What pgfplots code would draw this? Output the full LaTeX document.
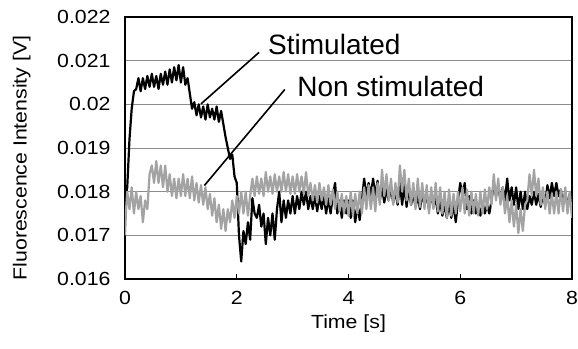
\documentclass[border=0pt]{standalone}
\usepackage{pgfplots}
\pgfplotsset{compat=1.18}
\usepackage{pgfplotstable}
\usepackage{fontspec}
\setmainfont{Liberation Sans}[FakeStretch=1.12]
\newfontfamily\annfont{Liberation Sans}

\pgfplotstableread{
t v
0.00 17.80
0.04 18.10
0.08 19.20
0.12 19.90
0.16 20.30
0.20 20.35
0.24 20.60
0.28 20.30
0.32 20.60
0.36 20.35
0.40 20.65
0.44 20.40
0.48 20.70
0.52 20.40
0.56 20.65
0.60 20.35
0.64 20.70
0.68 20.45
0.72 20.75
0.76 20.45
0.80 20.80
0.84 20.50
0.88 20.85
0.92 20.55
0.96 20.90
1.00 20.50
1.04 20.85
1.08 20.45
1.12 20.60
1.16 20.25
1.20 19.90
1.24 20.05
1.28 19.75
1.32 20.00
1.36 19.70
1.40 19.95
1.44 19.65
1.48 20.00
1.52 19.70
1.56 19.90
1.60 19.65
1.64 19.95
1.68 19.60
1.72 19.85
1.76 19.55
1.80 19.25
1.84 19.00
1.88 18.75
1.92 18.85
1.96 18.35
2.00 18.20
2.04 17.00
2.08 16.40
2.12 17.10
2.16 16.80
2.20 17.30
2.24 16.90
2.28 17.85
2.32 17.50
2.36 17.40
2.40 17.70
2.44 17.20
2.48 17.50
2.52 16.80
2.56 17.40
2.60 17.00
2.64 17.50
2.68 16.90
2.72 17.60
2.76 18.00
2.80 17.30
2.84 17.80
2.88 17.40
2.92 17.80
2.96 17.50
3.00 17.90
3.04 17.50
3.08 17.90
3.12 17.60
3.16 18.00
3.20 17.70
3.24 18.00
3.28 17.60
3.32 17.90
3.36 17.60
3.40 17.90
3.44 17.55
3.48 17.90
3.52 17.60
3.56 17.90
3.60 17.50
3.64 17.85
3.68 17.50
3.72 17.90
3.76 18.20
3.80 17.50
3.84 17.80
3.88 17.40
3.92 17.80
3.96 17.50
4.00 17.80
4.04 17.40
4.08 17.80
4.12 17.30
4.16 17.70
4.20 17.35
4.24 17.80
4.28 18.30
4.32 17.90
4.36 18.20
4.40 17.90
4.44 18.30
4.48 17.90
4.52 18.25
4.56 17.80
4.60 18.10
4.64 17.75
4.68 18.05
4.72 17.80
4.76 18.10
4.80 17.75
4.84 18.00
4.88 17.70
4.92 18.20
4.96 17.70
5.00 18.15
5.04 17.65
5.08 18.10
5.12 17.70
5.16 17.95
5.20 17.65
5.24 17.90
5.28 17.60
5.32 17.95
5.36 17.70
5.40 17.90
5.44 17.60
5.48 17.95
5.52 17.65
5.56 17.85
5.60 17.50
5.64 17.80
5.68 17.45
5.72 17.70
5.76 17.40
5.80 17.75
5.84 17.40
5.88 17.70
5.92 17.30
5.96 17.80
6.00 18.20
6.04 17.90
6.08 18.20
6.12 17.60
6.16 17.90
6.20 17.50
6.24 17.80
6.28 17.50
6.32 17.70
6.36 17.45
6.40 17.75
6.44 17.50
6.48 17.70
6.52 17.50
6.56 17.80
6.60 18.20
6.64 17.90
6.68 18.15
6.72 17.80
6.76 18.10
6.80 17.80
6.84 18.30
6.88 17.80
6.92 18.10
6.96 17.70
7.00 18.10
7.04 17.60
7.08 18.00
7.12 17.60
7.16 18.00
7.20 17.60
7.24 17.90
7.28 17.70
7.32 18.00
7.36 17.70
7.40 17.95
7.44 17.65
7.48 17.95
7.52 17.70
7.56 18.15
7.60 17.85
7.64 18.20
7.68 17.90
7.72 18.20
7.76 17.90
7.80 18.05
7.84 17.70
7.88 18.00
7.92 17.65
7.96 17.95
8.00 17.60
}\stimulated

\pgfplotstableread{
t v
0.00 17.00
0.02 17.60
0.04 18.00
0.08 17.60
0.12 18.10
0.16 17.50
0.20 18.00
0.24 17.60
0.28 17.90
0.32 17.30
0.36 17.80
0.40 17.60
0.44 18.40
0.48 18.60
0.52 18.20
0.56 18.70
0.60 18.20
0.64 18.60
0.68 18.10
0.72 18.60
0.76 18.00
0.80 18.40
0.84 17.90
0.88 18.30
0.92 17.85
0.96 18.30
1.00 17.90
1.04 18.40
1.08 17.90
1.12 18.30
1.16 17.85
1.20 18.35
1.24 17.80
1.28 18.20
1.32 17.75
1.36 18.15
1.40 17.70
1.44 18.10
1.48 17.60
1.52 17.95
1.56 17.45
1.60 17.85
1.64 17.30
1.68 17.70
1.72 17.15
1.76 17.60
1.80 17.10
1.84 17.60
1.88 17.30
1.92 17.80
1.96 17.40
2.00 17.90
2.04 17.50
2.08 18.00
2.12 17.50
2.16 18.00
2.20 17.45
2.24 17.90
2.28 18.30
2.32 17.90
2.36 18.35
2.40 17.95
2.44 18.30
2.48 17.90
2.52 18.45
2.56 18.00
2.60 18.35
2.64 17.95
2.68 18.40
2.72 18.00
2.76 18.35
2.80 18.00
2.84 18.45
2.88 18.00
2.92 18.40
2.96 17.95
3.00 18.35
3.04 17.95
3.08 18.40
3.12 18.00
3.16 18.35
3.20 17.95
3.24 18.45
3.28 17.90
3.32 18.20
3.36 17.80
3.40 18.15
3.44 17.75
3.48 18.20
3.52 17.80
3.56 18.10
3.60 17.70
3.64 18.15
3.68 17.70
3.72 18.05
3.76 17.60
3.80 18.00
3.84 17.55
3.88 17.95
3.92 17.50
3.96 17.90
4.00 17.45
4.04 18.00
4.08 17.45
4.12 17.95
4.16 17.50
4.20 18.00
4.24 17.50
4.28 18.10
4.32 17.60
4.36 18.15
4.40 17.60
4.44 18.10
4.48 17.55
4.52 18.20
4.56 17.70
4.60 18.50
4.64 17.90
4.68 18.40
4.72 17.80
4.76 18.30
4.80 17.70
4.84 18.20
4.88 17.75
4.92 18.60
4.96 18.00
5.00 18.50
5.04 17.80
5.08 18.30
5.12 17.70
5.16 18.20
5.20 17.60
5.24 18.30
5.28 17.65
5.32 18.20
5.36 17.60
5.40 18.15
5.44 17.50
5.48 18.10
5.52 17.60
5.56 18.20
5.60 17.55
5.64 18.10
5.68 17.50
5.72 18.00
5.76 17.40
5.80 18.05
5.84 17.45
5.88 17.95
5.92 17.50
5.96 18.00
6.00 17.55
6.04 18.10
6.08 17.50
6.12 18.05
6.16 17.45
6.20 18.00
6.24 17.50
6.28 17.95
6.32 17.45
6.36 18.00
6.40 17.50
6.44 18.05
6.48 17.60
6.52 18.10
6.56 17.70
6.60 18.40
6.64 17.80
6.68 18.30
6.72 17.70
6.76 18.10
6.80 17.50
6.84 17.90
6.88 17.30
6.92 17.80
6.96 17.20
7.00 17.70
7.04 17.05
7.08 17.60
7.12 17.10
7.16 17.70
7.20 17.80
7.24 18.40
7.28 17.90
7.32 18.50
7.36 17.90
7.40 18.30
7.44 17.70
7.48 18.10
7.52 17.60
7.56 18.00
7.60 17.50
7.64 17.95
7.68 17.50
7.72 18.00
7.76 17.50
7.80 18.05
7.84 17.55
7.88 18.10
7.92 17.50
7.96 18.00
8.00 17.40
}\nonstimulated

\definecolor{nsgray}{gray}{0.64}
\definecolor{gridgray}{gray}{0.55}

\begin{document}
\begin{tikzpicture}
\path[use as bounding box] (-125bp,-70bp) rectangle (453bp,279bp);
\begin{axis}[
  at={(0,0)}, anchor=south west,
  scale only axis,
  width=447bp, height=262bp,
  xmin=0, xmax=8, ymin=16, ymax=22,
  xtick={0,2,4,6,8}, xticklabels={0,2,4,6,8},
  ytick={16,17,18,19,20,21,22},
  yticklabels={0.016,0.017,0.018,0.019,0.02,0.021,0.022},
  xtick pos=left, ytick pos=left,
  tick align=inside,
  major tick length=5bp,
  ytick style={draw=none},
  xtick style={black, line width=0.8bp},
  ymajorgrids,
  grid style={gridgray, line width=0.9bp},
  axis line style={black, line width=1.2bp},
  tick label style={font=\fontsize{19bp}{22bp}\selectfont},
  yticklabel style={xshift=-11bp},
  xticklabel style={yshift=-9bp},
  label style={font=\fontsize{19bp}{22bp}\selectfont},
  xlabel={Time [s]},
  xlabel style={yshift=-3bp},
  ylabel={Fluorescence Intensity [V]},
  ylabel style={at={(axis description cs:-0.231,0.462)}, anchor=center, rotate=0},
  clip=true,
]
\addplot[black, line width=2.2bp, line join=round] table[x=t, y=v] {\stimulated};
\addplot[nsgray, line width=2.2bp, line join=round] table[x=t, y=v] {\nonstimulated};
\draw[black, line width=1.6bp] (axis cs:2.40,21.19) -- (axis cs:1.36,20.01);
\draw[black, line width=1.6bp] (axis cs:2.86,20.34) -- (axis cs:1.42,18.14);
\node[anchor=base west, inner sep=0pt, font=\annfont\fontsize{28bp}{32bp}\selectfont] at (axis cs:2.56,21.13) {Stimulated};
\node[anchor=base west, inner sep=0pt, font=\annfont\fontsize{28bp}{32bp}\selectfont] at (axis cs:3.08,20.17) {Non stimulated};
\end{axis}
\end{tikzpicture}
\end{document}
